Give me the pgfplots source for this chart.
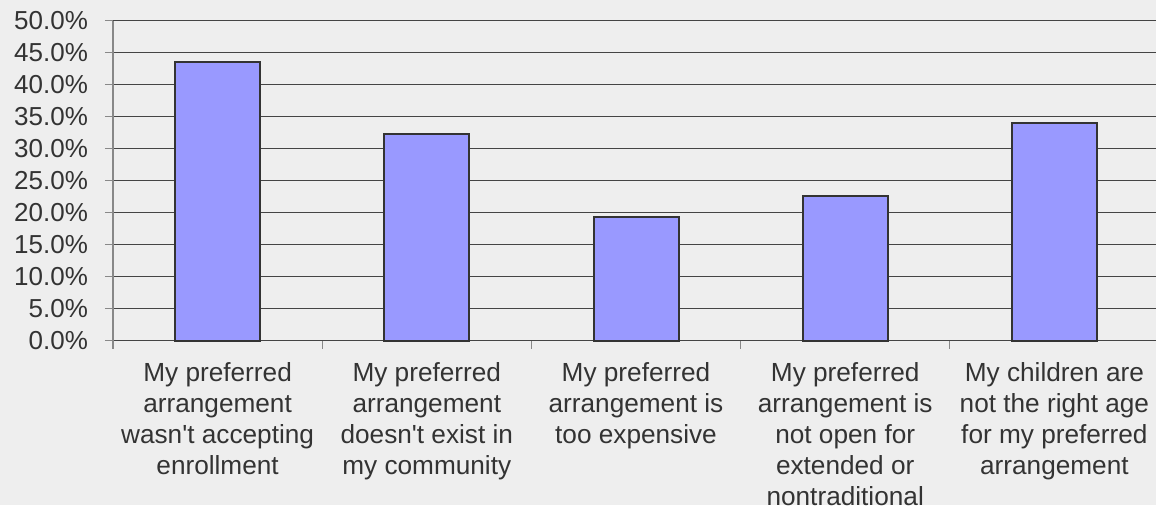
\documentclass[border=0pt]{standalone}
\usepackage{fontspec}
\setmainfont{Liberation Sans}
\usepackage{pgfplots}
\pgfplotsset{compat=1.18}
\definecolor{bg}{HTML}{EEEEEE}
\definecolor{barfill}{HTML}{9999FF}
\definecolor{bardraw}{HTML}{333333}
\definecolor{grid}{HTML}{444444}
\definecolor{yaxis}{HTML}{888888}
\definecolor{txt}{HTML}{333333}
\begin{document}
\begin{tikzpicture}
\fill[bg] (0,0) rectangle (578pt,252.5pt);
\path[use as bounding box] (0,0) rectangle (578pt,252.5pt);
\begin{axis}[
  at={(56.5pt,82.15pt)}, anchor=south west,
  scale only axis, width=523pt, height=160pt,
  xmin=-0.5, xmax=4.5, ymin=0, ymax=50,
  axis x line*=bottom, axis y line*=left,
  x axis line style={draw=grid, line width=0.6pt},
  y axis line style={draw=yaxis, line width=0.6pt},
  ymajorgrids, grid style={draw=grid, line width=0.6pt},
  ytick={0,5,...,50},
  yticklabels={0.0\%,5.0\%,10.0\%,15.0\%,20.0\%,25.0\%,30.0\%,35.0\%,40.0\%,45.0\%,50.0\%},
  xtick={0,1,2,3,4},
  minor xtick={-0.5,0.5,1.5,2.5,3.5,4.5},
  tick align=outside,
  major tick length=4pt, minor tick length=4pt,
  major x tick style={draw=none},
  minor x tick style={draw=yaxis, line width=0.6pt},
  ytick style={draw=yaxis, line width=0.6pt},
  xticklabels={
    {My preferred\\arrangement\\wasn\textquotesingle t accepting\\enrollment},
    {My preferred\\arrangement\\doesn\textquotesingle t exist in\\my community},
    {My preferred\\arrangement is\\too expensive},
    {My preferred\\arrangement is\\not open for\\extended or\\nontraditional},
    {My children are\\not the right age\\for my preferred\\arrangement}},
  xticklabel style={align=center, anchor=north, yshift=-3.5pt, text=txt,
    font=\fontsize{13.1}{15.5}\selectfont},
  yticklabel style={text=txt, font=\fontsize{13}{15.5}\selectfont, xshift=-5pt},
  clip=false,
]
\addplot[ybar, bar width=42.5pt, fill=barfill, draw=bardraw, line width=1pt]
  coordinates {(0,43.5) (1,32.3) (2,19.4) (3,22.6) (4,34.0)};
\end{axis}
\end{tikzpicture}
\end{document}
